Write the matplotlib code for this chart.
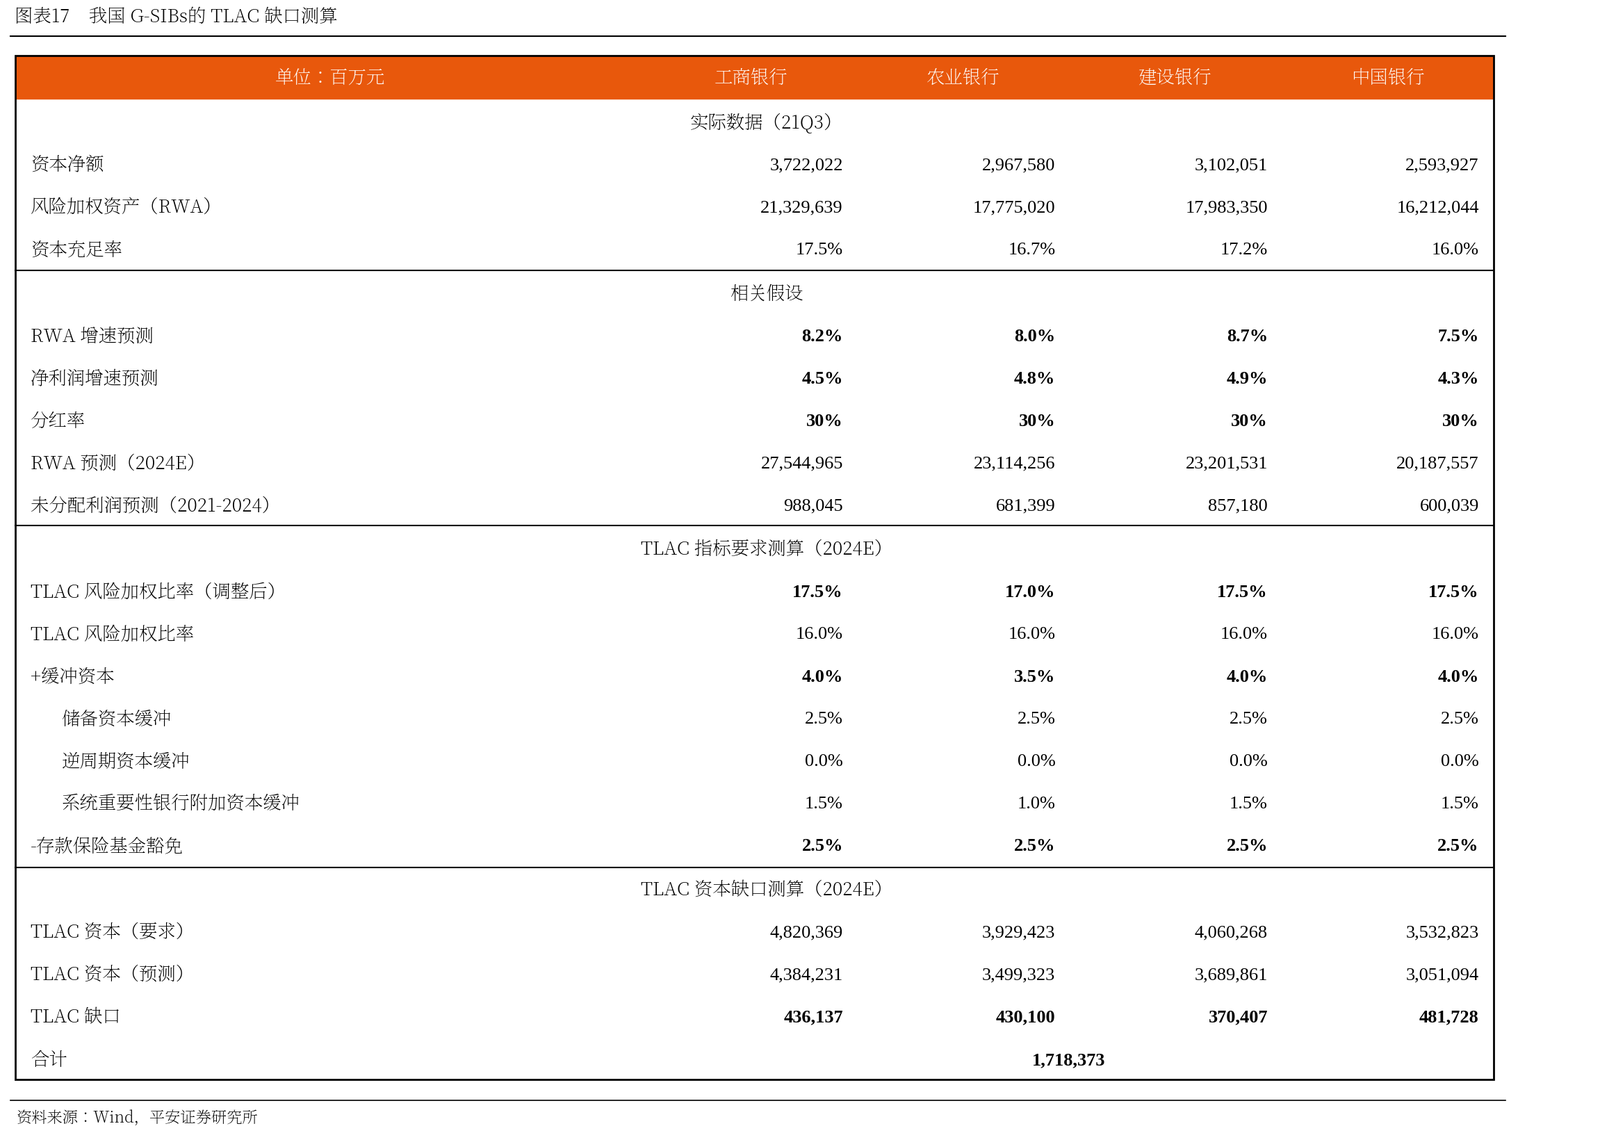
import matplotlib
matplotlib.use("Agg")
import matplotlib.pyplot as plt
from matplotlib.patches import Rectangle
from matplotlib import font_manager as fm
import glob

banks = ["工商银行", "农业银行", "建设银行", "中国银行"]
unit_label = "单位：百万元"

sections = ["实际数据（21Q3）", "相关假设", "TLAC 指标要求测算（2024E）", "TLAC 资本缺口测算（2024E）"]

rows_actual = [
    ("资本净额", ["3,722,022", "2,967,580", "3,102,051", "2,593,927"], False, False),
    ("风险加权资产（RWA）", ["21,329,639", "17,775,020", "17,983,350", "16,212,044"], False, False),
    ("资本充足率", ["17.5%", "16.7%", "17.2%", "16.0%"], False, False),
]
rows_assume = [
    ("RWA 增速预测", ["8.2%", "8.0%", "8.7%", "7.5%"], True, False),
    ("净利润增速预测", ["4.5%", "4.8%", "4.9%", "4.3%"], True, False),
    ("分红率", ["30%", "30%", "30%", "30%"], True, False),
    ("RWA 预测（2024E）", ["27,544,965", "23,114,256", "23,201,531", "20,187,557"], False, False),
    ("未分配利润预测（2021-2024）", ["988,045", "681,399", "857,180", "600,039"], False, False),
]
rows_tlac = [
    ("TLAC 风险加权比率（调整后）", ["17.5%", "17.0%", "17.5%", "17.5%"], True, False),
    ("TLAC 风险加权比率", ["16.0%", "16.0%", "16.0%", "16.0%"], False, False),
    ("+缓冲资本", ["4.0%", "3.5%", "4.0%", "4.0%"], True, False),
    ("储备资本缓冲", ["2.5%", "2.5%", "2.5%", "2.5%"], False, True),
    ("逆周期资本缓冲", ["0.0%", "0.0%", "0.0%", "0.0%"], False, True),
    ("系统重要性银行附加资本缓冲", ["1.5%", "1.0%", "1.5%", "1.5%"], False, True),
    ("-存款保险基金豁免", ["2.5%", "2.5%", "2.5%", "2.5%"], True, False),
]
rows_gap = [
    ("TLAC 资本（要求）", ["4,820,369", "3,929,423", "4,060,268", "3,532,823"], False, False),
    ("TLAC 资本（预测）", ["4,384,231", "3,499,323", "3,689,861", "3,051,094"], False, False),
    ("TLAC 缺口", ["436,137", "430,100", "370,407", "481,728"], True, False),
]
total_label = "合计"
total_value = "1,718,373"

# locate CJK font file
cjk_file = None
for f in fm.fontManager.ttflist:
    if "CJK" in f.name and ("SC" in f.name or cjk_file is None):
        cjk_file = f.fname
        if "SC" in f.name:
            break
if cjk_file is None:
    files = glob.glob("/usr/share/fonts/**/*CJK*", recursive=True)
    if files:
        cjk_file = files[0]

def cjk(bold=False, size=19, style="normal"):
    if cjk_file:
        return fm.FontProperties(fname=cjk_file, size=size, weight="bold" if bold else "normal", style=style)
    return fm.FontProperties(family="Noto Sans CJK SC", size=size, weight="bold" if bold else "normal")

def serif(bold=False, size=19):
    return fm.FontProperties(family="Liberation Serif", size=size, weight="bold" if bold else "normal")

W, H = 1560, 1105
fig = plt.figure(figsize=(23.02, 16.31), dpi=100)
ax = fig.add_axes([0, 0, 1, 1])
ax.set_xlim(0, W)
ax.set_ylim(H, 0)
ax.axis("off")

orange = "#E8580C"

def txt(x, y, s, prop, ha="left", color="black"):
    ax.text(x, y, s, ha=ha, va="center", color=color, fontproperties=prop)

txt(14, 17, "图表17    我国 G-SIBs的 TLAC 缺口测算", cjk(True, 19))
ax.plot([10, 1468], [36, 36], color="black", lw=1.5)

L, R, T, B = 15, 1456, 55, 1053
ax.add_patch(Rectangle((L, T), R - L, 42, color=orange, zorder=0))
ax.add_patch(Rectangle((L, T), R - L, B - T, fill=False, ec="black", lw=2))
txt(322, 76, unit_label, cjk(True, 19), ha="center", color="white")
col_c = [732, 939, 1146, 1353]
col_r = [822, 1029, 1236, 1442]
for c, b in zip(col_c, banks):
    txt(c, 76, b, cjk(True, 19), ha="center", color="white")

mid = (L + R) / 2
def block(sec, y0, rows, step=41.3):
    txt(mid + 12, y0, sec, cjk(True, 19), ha="center")
    y = y0
    for lab, vals, bold, ind in rows:
        y += step
        txt(60 if ind else 30, y, lab, cjk(bold, 19))
        for xr, v in zip(col_r, vals):
            txt(xr, y, v, serif(bold, 19), ha="right")
    return y

block(sections[0], 120, rows_actual)
ax.plot([L, R], [264, 264], color="black", lw=1.5)
block(sections[1], 287, rows_assume)
ax.plot([L, R], [513, 513], color="black", lw=1.5)
block(sections[2], 536, rows_tlac)
ax.plot([L, R], [846, 846], color="black", lw=1.5)
block(sections[3], 868, rows_gap)
txt(30, 1034, total_label, cjk(True, 19))
txt(1042, 1034, total_value, serif(True, 19), ha="center")

ax.plot([10, 1468], [1073, 1073], color="black", lw=1.2)
txt(16, 1090, "资料来源：Wind，平安证券研究所", cjk(False, 16, "italic"))
ax.plot([10, 1468], [1106, 1106], color="black", lw=1.2)

fig.savefig("out.png", dpi=100)
